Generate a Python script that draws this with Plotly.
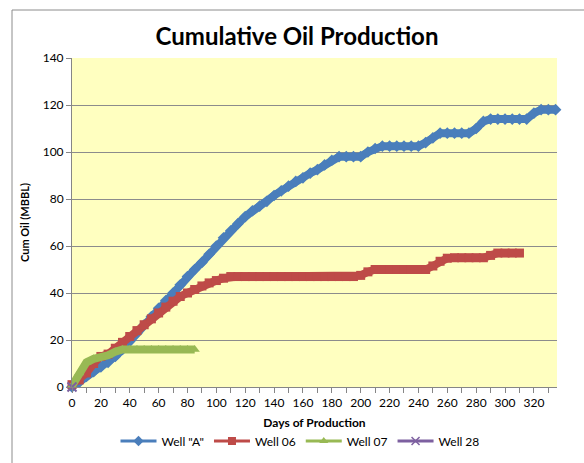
import plotly.graph_objects as go

# ---- data ----
days_a = list(range(0, 340, 5))
well_a = [0, 2, 4.5, 6.5, 8.5, 10.5, 13, 16, 19.5, 23, 26.5, 30, 33.5, 36.8, 40, 43.5,
          47, 50, 53, 56.5, 60, 63.5, 66.5, 69.5, 72.5, 75, 77, 79, 81.5, 83.5, 85.5,
          87.5, 89, 91, 92.5, 94.5, 96.5, 98, 98, 98, 98, 100, 101.5, 102.5, 102.5,
          102.5, 102.5, 102.5, 102.5, 104, 106, 108, 108, 108, 108, 108, 110, 113, 114,
          114, 114, 114, 114, 114, 116.5, 118, 118, 118]

days_06 = list(range(0, 315, 5))
well_06 = [1, 3, 6, 10, 13, 14, 16.5, 19, 21.5, 24, 26.5, 29, 31.5, 34, 36.5, 38.5,
           40, 41.5, 43, 44.3, 45.3, 46.3, 47, 47, 47, 47, 47, 47, 47, 47, 47, 47, 47,
           47, 47, 47, 47, 47, 47, 47, 47.5, 49, 50, 50, 50, 50, 50, 50, 50, 50, 51.5,
           53.5, 54.8, 55, 55, 55, 55, 55, 56, 57, 57, 57, 57]

days_07 = list(range(0, 90, 5))
well_07 = [0.5, 6, 10.5, 12, 12.5, 13.5, 15, 16, 16, 16, 16, 16, 16, 16, 16, 16, 16, 16]

days_28 = [0]
well_28 = [0]

series_names = ['Well "A"', "Well 06", "Well 07", "Well 28"]
colors = ["#4A7EBB", "#BE4B48", "#98B954", "#7D60A0"]
symbols = ["diamond", "square", "triangle-up", "x-thin"]

x_ticks = list(range(0, 340, 20))
y_ticks = list(range(0, 160, 20))

FONT = "Lato, 'Open Sans', sans-serif"

fig = go.Figure()

data = [(days_a, well_a), (days_06, well_06), (days_07, well_07), (days_28, well_28)]
for (xs, ys), name, col, sym in zip(data, series_names, colors, symbols):
    is_x = sym.startswith("x")
    fig.add_trace(go.Scatter(
        x=xs, y=ys, mode="lines+markers", name=name, showlegend=False,
        legendgroup=name, cliponaxis=False,
        line=dict(color=col, width=8),
        marker=dict(symbol=sym, size=9, color=col,
                    line=dict(color=col, width=2 if is_x else 0)),
    ))
    # legend entry with thinner line
    fig.add_trace(go.Scatter(
        x=[None], y=[None], mode="lines+markers", name=name, legendgroup=name,
        line=dict(color=col, width=3),
        marker=dict(symbol=sym, size=8, color=col,
                    line=dict(color=col, width=1.5 if is_x else 0)),
    ))

L, R, T, B = 72, 27, 58, 76
W, H = 584, 463
pw, ph = W - L - R, H - T - B

def px_x(p):
    return (p - L) / pw

def px_y(p):
    return (H - B - p) / ph

fig.add_shape(type="rect", xref="paper", yref="paper",
              x0=px_x(12), x1=px_x(600), y0=px_y(480), y1=px_y(10),
              line=dict(color="#8C8C8C", width=1), fillcolor="rgba(0,0,0,0)",
              layer="below")

fig.update_layout(
    width=W, height=H,
    margin=dict(l=L, r=R, t=T, b=B, autoexpand=False),
    paper_bgcolor="white",
    plot_bgcolor="#FFFFC0",
    font=dict(family=FONT, size=11, color="#000000"),
    title=dict(text="<b>Cumulative Oil Production</b>", x=297 / W, xanchor="center",
               y=1 - 37 / H, yanchor="middle",
               font=dict(family=FONT, size=24, color="#000000")),
    legend=dict(orientation="h", x=px_x(300), xanchor="center",
                y=px_y(441), yanchor="middle",
                font=dict(family=FONT, size=12), bgcolor="rgba(0,0,0,0)",
                itemwidth=36, tracegroupgap=0),
)

fig.update_xaxes(
    range=[0, 336], tickvals=x_ticks, ticktext=[str(v) for v in x_ticks],
    showgrid=False, zeroline=False, automargin=False,
    showline=True, linecolor="#868686", linewidth=1,
    ticks="outside", ticklen=5, tickcolor="#868686",
    minor=dict(dtick=10, ticks="outside", ticklen=5, tickcolor="#868686", showgrid=False),
    tickfont=dict(family=FONT, size=12, color="#000"),
    title=dict(text="<b>Days of Production</b>", standoff=9,
               font=dict(family=FONT, size=12, color="#000")),
)
fig.update_yaxes(
    range=[0, 140], tickvals=y_ticks, ticktext=[str(v) for v in y_ticks],
    showgrid=True, gridcolor="#8C8C8C", gridwidth=1, zeroline=False, automargin=False,
    showline=True, linecolor="#868686", linewidth=1,
    ticks="outside", ticklen=5, tickcolor="#868686",
    tickfont=dict(family=FONT, size=12, color="#000"),
    title=dict(text="<b>Cum Oil (MBBL)</b>", standoff=10,
               font=dict(family=FONT, size=11, color="#000")),
)

fig.write_html("out.html")
